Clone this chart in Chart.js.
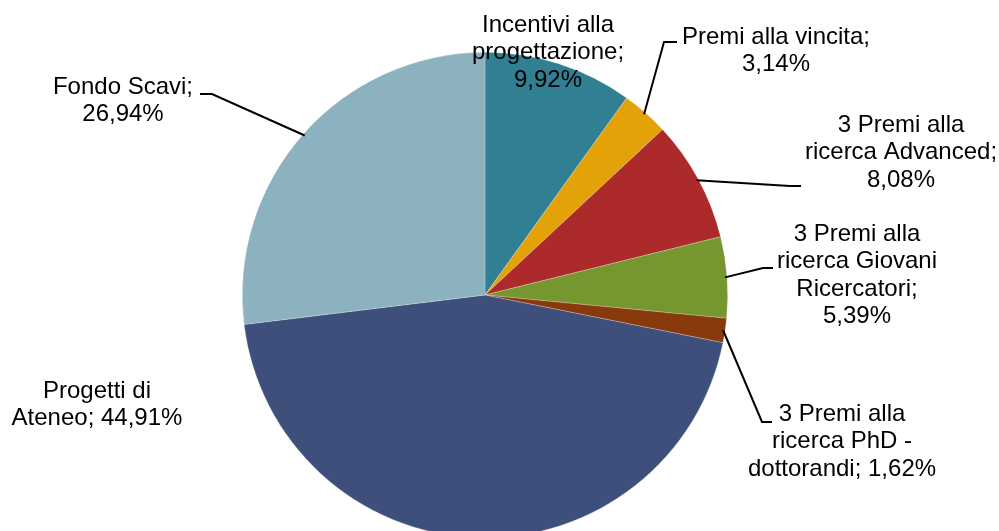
<!DOCTYPE html>
<html>
<head>
<meta charset="utf-8">
<script src="https://cdn.jsdelivr.net/npm/chart.js@4.4.1/dist/chart.umd.min.js"></script>
<style>
  html, body { margin: 0; padding: 0; background: #fff; overflow: hidden; }
  #wrap { width: 999px; height: 531px; overflow: hidden; }
</style>
</head>
<body>
<div id="wrap"><canvas id="pie" width="999" height="600"></canvas></div>
<script>
const labels = [
  'Incentivi alla progettazione',
  'Premi alla vincita',
  '3 Premi alla ricerca Advanced',
  '3 Premi alla ricerca Giovani Ricercatori',
  '3 Premi alla ricerca PhD - dottorandi',
  'Progetti di Ateneo',
  'Fondo Scavi'
];
const values = [9.92, 3.14, 8.08, 5.39, 1.62, 44.91, 26.94];
const colors = ['#317F92', '#E2A208', '#AD2A2B', '#76962F', '#883A0C', '#3E4F7C', '#8CB2C0'];

// label text lines (as in the original, with "; value%")
const labelLines = [
  ['Incentivi alla', 'progettazione;', '9,92%'],
  ['Premi alla vincita;', '3,14%'],
  ['3 Premi alla', 'ricerca Advanced;', '8,08%'],
  ['3 Premi alla', 'ricerca Giovani', 'Ricercatori;', '5,39%'],
  ['3 Premi alla', 'ricerca PhD -', 'dottorandi; 1,62%'],
  ['Progetti di', 'Ateneo; 44,91%'],
  ['Fondo Scavi;', '26,94%']
];

// label placement: text centre x, first line y, and leader elbow/end (null = no leader)
const labelLayout = [
  { x: 548, y: 25, leader: null },
  { x: 776, y: 37, leader: [[664, 42], [677, 42]] },
  { x: 901, y: 125, leader: [[790, 186], [801, 186]] },
  { x: 857, y: 234, leader: [[763, 268], [773, 268]] },
  { x: 842, y: 414, leader: [[762, 422], [772, 422]] },
  { x: 97, y: 391, leader: null },
  { x: 123, y: 87, leader: [[212, 94], [200, 94]] }
];

const pieLabels = {
  id: 'pieLabels',
  afterDatasetsDraw(chart) {
    const ctx = chart.ctx;
    const arcs = chart.getDatasetMeta(0).data;
    ctx.save();
    ctx.strokeStyle = '#000';
    ctx.lineWidth = 2;
    arcs.forEach((arc, i) => {
      const lay = labelLayout[i];
      if (lay.leader) {
        const p = arc.getProps(['x', 'y', 'startAngle', 'endAngle', 'outerRadius'], true);
        const mid = (p.startAngle + p.endAngle) / 2;
        const sx = p.x + Math.cos(mid) * (p.outerRadius - 2);
        const sy = p.y + Math.sin(mid) * (p.outerRadius - 2);
        ctx.beginPath();
        ctx.moveTo(sx, sy);
        lay.leader.forEach(pt => ctx.lineTo(pt[0], pt[1]));
        ctx.stroke();
      }
      ctx.fillStyle = '#000';
      ctx.font = '24px "Liberation Sans", Arial, sans-serif';
      ctx.textAlign = 'center';
      ctx.textBaseline = 'middle';
      labelLines[i].forEach((line, k) => {
        ctx.fillText(line, lay.x, lay.y + k * 27.5);
      });
    });
    ctx.restore();
  }
};

new Chart(document.getElementById('pie'), {
  type: 'pie',
  data: {
    labels: labels,
    datasets: [{
      data: values,
      backgroundColor: colors,
      borderColor: 'rgba(255,255,255,0.4)',
      borderWidth: 0.6
    }]
  },
  options: {
    responsive: false,
    animation: false,
    layout: { padding: { left: 242, top: 52, right: 271, bottom: 62 } },
    plugins: {
      legend: { display: false },
      tooltip: { enabled: false }
    }
  },
  plugins: [pieLabels]
});
</script>
</body>
</html>
